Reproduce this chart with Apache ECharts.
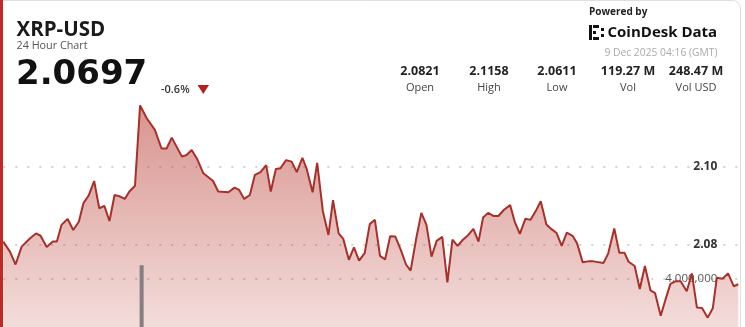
<!DOCTYPE html>
<html>
<head>
<meta charset="utf-8">
<script src="https://cdn.jsdelivr.net/npm/echarts@6/dist/echarts.min.js"></script>
<style>
html,body{margin:0;padding:0;background:#fff;}
#chart{width:745px;height:327px;}
</style>
</head>
<body>
<div id="chart"></div>
<script>
// time of day in minutes since start of the 24h window
const minutes = [0,13,24,36,52,64,73,85,97,105,
  114,126,137,148,157,167,178,188,198,208,
  218,229,238,247,258,268,281,297,310,320,
  330,350,359,369,379,392,411,421,441,453,
  462,472,483,493,504,515,524,534,543,554,
  565,575,586,594,606,615,626,637,646,657,
  666,677,687,697,708,718,728,738,748,758,
  768,779,789,798,809,819,829,839,849,860,
  870,880,890,900,911,921,931,940,950,960,
  970,981,993,1002,1012,1023,1033,1044,1053,1064,
  1074,1084,1094,1104,1116,1124,1135,1146,1156,1176,
  1185,1197,1207,1217,1225,1237,1247,1257,1268,1277,
  1288,1297,1307,1318,1327,1339,1349,1359,1369,1380,
  1390,1398,1409,1420,1431,1440];
const prices = [2.0807,2.0781,2.0748,2.0794,2.0815,2.0828,2.0822,2.0793,2.0807,2.0807,
  2.0850,2.0865,2.0837,2.0858,2.0906,2.0925,2.0963,2.0893,2.0899,2.0860,
  2.0927,2.0923,2.0917,2.0936,2.0951,2.1158,2.1125,2.1095,2.1047,2.1047,
  2.1075,2.1026,2.1030,2.1043,2.1022,2.0983,2.0963,2.0936,2.0934,2.0946,
  2.0940,2.0917,2.0927,2.0979,2.0986,2.1004,2.0936,2.0994,2.0996,2.1017,
  2.1013,2.0986,2.1023,2.0996,2.0934,2.1010,2.0886,2.0824,2.0914,2.0828,
  2.0814,2.0760,2.0792,2.0758,2.0777,2.0852,2.0863,2.0770,2.0761,2.0821,
  2.0820,2.0785,2.0748,2.0732,2.0815,2.0881,2.0850,2.0768,2.0809,2.0819,
  2.0702,2.0812,2.0796,2.0811,2.0824,2.0840,2.0807,2.0869,2.0881,2.0873,
  2.0873,2.0889,2.0901,2.0858,2.0827,2.0866,2.0863,2.0888,2.0911,2.0851,
  2.0839,2.0829,2.0796,2.0830,2.0821,2.0803,2.0754,2.0756,2.0756,2.0752,
  2.0776,2.0841,2.0778,2.0778,2.0755,2.0744,2.0685,2.0744,2.0681,2.0674,
  2.0616,2.0656,2.0698,2.0705,2.0705,2.0679,2.0725,2.0637,2.0636,2.0611,
  2.0635,2.0714,2.0711,2.0725,2.0692,2.0697];
// visible volume bar
const volMinutes = [271];
const volValues = [4460000];
// axis labels shown
const priceTickLabels = [2.08, 2.10];
const volTickLabels = [4000000];
// header
const symbol = 'XRP-USD';
const subtitle = '24 Hour Chart';
const lastPrice = '2.0697';
const change = '-0.6%';
const statValues = ['2.0821','2.1158','2.0611','119.27 M','248.47 M'];
const statLabels = ['Open','High','Low','Vol','Vol USD'];
const timestamp = '9 Dec 2025 04:16 (GMT)';

const chart = echarts.init(document.getElementById('chart'), null, {renderer:'canvas'});
const FONT = '"Open Sans", "Noto Sans", sans-serif';
const BIG = '"DejaVu Sans", sans-serif';
const statX = [420, 489, 557, 628, 696];
const dotted = {type:[2,10], width:1.5};

const graphic = [
  {type:'rect', shape:{x:0.5,y:0.5,width:740,height:360,r:[0,8,0,0]}, style:{fill:'none',stroke:'#dedede',lineWidth:1}, z:-1, silent:true},
  {type:'rect', shape:{x:0,y:0,width:3,height:327}, style:{fill:'#bf2b22'}, z:100},
  {type:'text', x:16.5, y:30, style:{text:symbol, font:'bold 20.5px '+FONT, fill:'#1a1a1a', verticalAlign:'middle'}, z:100},
  {type:'text', x:16.5, y:45.5, style:{text:subtitle, font:'10.8px '+FONT, fill:'#555', verticalAlign:'middle'}, z:100},
  {type:'text', x:16, y:75, style:{text:lastPrice, font:'bold 34px '+BIG, fill:'#111', verticalAlign:'middle'}, z:100},
  {type:'text', x:161, y:89.5, style:{text:change, font:'600 11px '+FONT, fill:'#333', verticalAlign:'middle'}, z:100},
  {type:'polygon', shape:{points:[[197.5,85],[209,85],[203.3,94]]}, style:{fill:'#b5221b'}, z:100},
  {type:'text', x:589, y:12, style:{text:'Powered by', font:'bold 10px '+FONT, fill:'#222', verticalAlign:'middle'}, z:100},
  // logo mark
  {type:'group', z:100, children:[
    {type:'rect', shape:{x:589,y:25,width:3,height:15}, style:{fill:'#111'}},
    {type:'rect', shape:{x:593,y:25,width:6,height:3}, style:{fill:'#111'}},
    {type:'rect', shape:{x:593,y:37,width:6,height:3}, style:{fill:'#111'}},
    {type:'rect', shape:{x:593,y:31,width:3,height:3}, style:{fill:'#111'}},
    {type:'rect', shape:{x:601,y:28,width:3,height:3}, style:{fill:'#111'}},
    {type:'rect', shape:{x:601,y:34,width:3,height:3}, style:{fill:'#111'}}
  ]},
  {type:'text', x:607.5, y:33, style:{text:'CoinDesk Data', font:'bold 15px '+FONT, fill:'#111', verticalAlign:'middle'}, z:100},
  {type:'text', x:717.5, y:53.5, style:{text:timestamp, font:'10.3px '+FONT, fill:'#aaa', align:'right', verticalAlign:'middle'}, z:100}
];
statValues.forEach((v,i)=>{
  graphic.push({type:'text', x:statX[i], y:71, style:{text:v, font:'bold 12.5px '+FONT, fill:'#222', align:'center', verticalAlign:'middle'}, z:100});
  graphic.push({type:'text', x:statX[i], y:88, style:{text:statLabels[i], font:'11px '+FONT, fill:'#444', align:'center', verticalAlign:'middle'}, z:100});
});

const option = {
  animation:false,
  backgroundColor:'#fff',
  grid:{left:3.3, right:6.7, top:89.1, bottom:-72.5, containLabel:false, outerBoundsMode:'none'},
  xAxis:{type:'value', min:0, max:1440, show:false},
  yAxis:[
    {type:'value', position:'right', min:2.04, max:2.12, interval:0.02,
     axisLine:{show:false}, axisTick:{show:false},
     axisLabel:{inside:true, margin:21, fontFamily:FONT, fontWeight:'bold', fontSize:12, color:'#333',
       formatter:(v)=> priceTickLabels.some(t=>Math.abs(t-v)<1e-6) ? v.toFixed(2) : ''},
     splitLine:{show:true, lineStyle:Object.assign({color:['rgba(0,0,0,0)','rgba(0,0,0,0)','#c4c4c4','#c4c4c4','rgba(0,0,0,0)']}, dotted)}
    },
    {type:'value', position:'right', min:0, max:10304000, interval:2000000,
     axisLine:{show:false}, axisTick:{show:false},
     axisLabel:{inside:true, margin:21, fontFamily:FONT, fontSize:11.5, color:'#555',
       formatter:(v)=> volTickLabels.indexOf(v)>=0 ? v.toLocaleString('en-US') : ''},
     splitLine:{show:true, lineStyle:Object.assign({color:['rgba(0,0,0,0)','rgba(0,0,0,0)','#c4c4c4','rgba(0,0,0,0)','rgba(0,0,0,0)','rgba(0,0,0,0)','rgba(0,0,0,0)']}, dotted)}
    }
  ],
  series:[
    {type:'line', yAxisIndex:0, data:minutes.map((m,i)=>[m,prices[i]]), showSymbol:false, symbol:'none',
     lineStyle:{color:'#a8302a', width:2},
     areaStyle:{color:new echarts.graphic.LinearGradient(0,0,0,1,[
       {offset:0,color:'rgba(185,60,50,0.78)'},{offset:1,color:'rgba(185,60,50,0.08)'}])},
     z:3},
    {type:'bar', yAxisIndex:1, data:volMinutes.map((m,i)=>[m,volValues[i]]), barWidth:4, itemStyle:{color:'#877f7f'}, z:4}
  ],
  graphic:graphic
};
chart.setOption(option);
</script>
</body>
</html>
